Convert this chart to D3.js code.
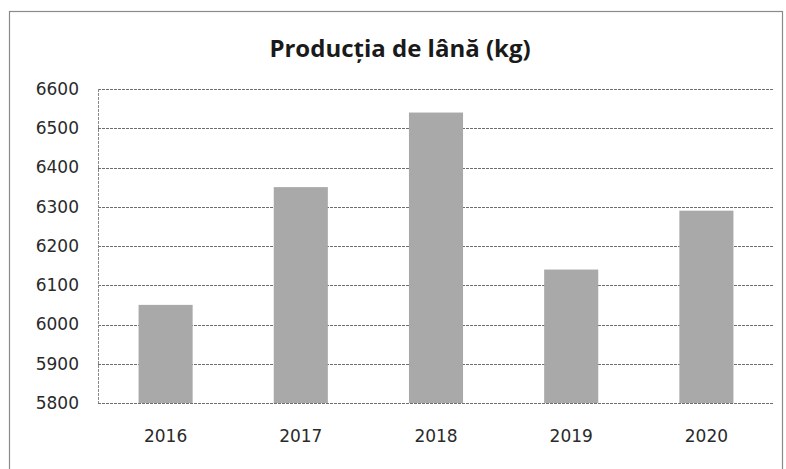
<!DOCTYPE html>
<html><head><meta charset="utf-8">
<script src="https://cdn.jsdelivr.net/npm/d3@7"></script>
<style>html,body{margin:0;padding:0;background:#fff;}</style>
</head><body>
<svg id="chart" width="786" height="469"></svg>
<script>
const title = "Producția de lână (kg)";
const categories = ["2016", "2017", "2018", "2019", "2020"];
const values = [6050, 6350, 6540, 6140, 6290];
const yTicks = [5800, 5900, 6000, 6100, 6200, 6300, 6400, 6500, 6600];

const svg = d3.select("#chart");
const W = 786, H = 469;
const m = {left: 98, right: 12, top: 89, bottom: 66};

// outer frame
svg.append("rect").attr("x",9.5).attr("y",11.5).attr("width",773).attr("height",470)
  .attr("fill","none").attr("stroke","#8a8a8a").attr("stroke-width",1.2);

const x = d3.scaleBand().domain(categories).range([m.left, W - m.right]).paddingInner(0.6).paddingOuter(0.3);
const y = d3.scaleLinear().domain([5800, 6600]).range([H - m.bottom, m.top]);

// gridlines
svg.append("g").selectAll("line").data(yTicks).join("line")
  .attr("x1", m.left).attr("x2", W - m.right)
  .attr("y1", d => Math.round(y(d)) + 0.5).attr("y2", d => Math.round(y(d)) + 0.5)
  .attr("stroke", "#6e6e6e").attr("stroke-width", 1).attr("stroke-dasharray","3,1");

// left axis line
svg.append("line").attr("x1", m.left + 0.5).attr("x2", m.left + 0.5)
  .attr("y1", y(6600)).attr("y2", y(5800)).attr("stroke", "#8a8a8a").attr("stroke-dasharray","3,1");

// bars
svg.append("g").selectAll("rect").data(values).join("rect")
  .attr("x", (d, i) => x(categories[i]))
  .attr("width", x.bandwidth())
  .attr("y", d => y(d))
  .attr("height", d => y(5800) - y(d))
  .attr("fill", "#a9a9a9");

// y axis labels
const yAxis = d3.axisLeft(y).tickValues(yTicks).tickSize(0).tickPadding(19).tickFormat(d3.format("d"));
const ga = svg.append("g").attr("transform", `translate(${m.left},0)`).call(yAxis);
ga.select(".domain").remove();
ga.selectAll("text").attr("font-family", "DejaVu Sans").attr("font-size", 17).attr("fill", "#2a2a2a");

// x axis labels
const xAxis = d3.axisBottom(x).tickSize(0).tickPadding(27);
const gx = svg.append("g").attr("transform", `translate(0,${y(5800)})`).call(xAxis);
gx.select(".domain").remove();
gx.selectAll("text").attr("font-family", "DejaVu Sans").attr("font-size", 17).attr("fill", "#2a2a2a");

// title
svg.append("text").attr("x", 400).attr("y", 57).attr("text-anchor", "middle")
  .attr("font-family", "Open Sans").attr("font-weight", "bold").attr("font-size", 24)
  .attr("fill", "#1a1a1a").text(title);
</script>
</body></html>
